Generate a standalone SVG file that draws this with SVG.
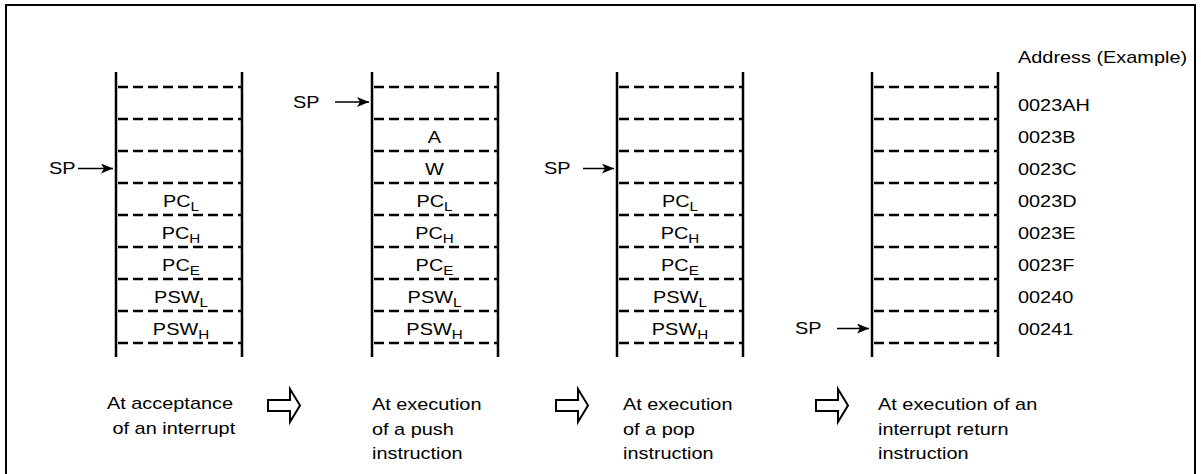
<svg xmlns="http://www.w3.org/2000/svg" width="1201" height="474" viewBox="0 0 1201 474">
<style>
text{font-family:"Liberation Sans",Arial,sans-serif;font-size:17px;fill:#000;transform-box:fill-box;transform:scaleX(1.17)}
.s{text-anchor:start;transform-origin:left center}
.m{text-anchor:middle;transform-origin:center}
.sub{font-size:13px}
.wall{stroke:#000;stroke-width:2.5;fill:none}
.dash{stroke:#000;stroke-width:2.5;stroke-dasharray:10 5;fill:none}
.ptr{stroke:#000;stroke-width:1.5;fill:none;marker-end:url(#ah)}
.blk{stroke:#000;stroke-width:2;fill:#fff;stroke-linejoin:miter}
</style>
<defs>
<marker id="ah" markerWidth="14" markerHeight="12" refX="12" refY="5" orient="auto" markerUnits="userSpaceOnUse">
<path d="M0,0 L12,5 L0,10 L3,5 Z" fill="#000"/>
</marker>
<g id="stackShape">
<line class="wall" x1="0" y1="72" x2="0" y2="357"/>
<line class="wall" x1="126" y1="72" x2="126" y2="357"/>
<path class="dash" d="M2,87H126M2,119H126M2,151H126M2,183H126M2,215H126M2,247H126M2,279H126M2,311H126M2,343H126"/>
</g>
</defs>
<path d="M6,480V5H1195V480" fill="none" stroke="#000" stroke-width="2"/>

<g id="stack1">
<use href="#stackShape" transform="translate(116,0)"/>
<text class="m" x="181" y="207">PC<tspan class="sub" dy="4">L</tspan></text>
<text class="m" x="181" y="239">PC<tspan class="sub" dy="4">H</tspan></text>
<text class="m" x="181" y="271">PC<tspan class="sub" dy="4">E</tspan></text>
<text class="m" x="181" y="303">PSW<tspan class="sub" dy="4">L</tspan></text>
<text class="m" x="181" y="335">PSW<tspan class="sub" dy="4">H</tspan></text>
<text class="s" x="49" y="174">SP</text>
<text class="s" x="107" y="409">At acceptance</text>
<text class="s" x="112.5" y="434">of an interrupt</text>
</g>

<g id="stack2">
<use href="#stackShape" transform="translate(372,0)"/>
<text class="m" x="434.5" y="143">A</text>
<text class="m" x="434.5" y="175">W</text>
<text class="m" x="434.5" y="207">PC<tspan class="sub" dy="4">L</tspan></text>
<text class="m" x="434.5" y="239">PC<tspan class="sub" dy="4">H</tspan></text>
<text class="m" x="434.5" y="271">PC<tspan class="sub" dy="4">E</tspan></text>
<text class="m" x="434.5" y="303">PSW<tspan class="sub" dy="4">L</tspan></text>
<text class="m" x="434.5" y="335">PSW<tspan class="sub" dy="4">H</tspan></text>
<text class="s" x="293" y="108">SP</text>
<text class="s" x="372" y="410">At execution</text>
<text class="s" x="372" y="435">of a push</text>
<text class="s" x="372" y="459">instruction</text>
</g>

<g id="stack3">
<use href="#stackShape" transform="translate(617,0)"/>
<text class="m" x="680" y="207">PC<tspan class="sub" dy="4">L</tspan></text>
<text class="m" x="680" y="239">PC<tspan class="sub" dy="4">H</tspan></text>
<text class="m" x="680" y="271">PC<tspan class="sub" dy="4">E</tspan></text>
<text class="m" x="680" y="303">PSW<tspan class="sub" dy="4">L</tspan></text>
<text class="m" x="680" y="335">PSW<tspan class="sub" dy="4">H</tspan></text>
<text class="s" x="544" y="174">SP</text>
<text class="s" x="623" y="410">At execution</text>
<text class="s" x="623" y="435">of a pop</text>
<text class="s" x="623" y="459">instruction</text>
</g>

<g id="stack4">
<use href="#stackShape" transform="translate(872,0)"/>
<text class="s" x="795" y="334">SP</text>
<text class="s" x="878" y="410">At execution of an</text>
<text class="s" x="878" y="435">interrupt return</text>
<text class="s" x="878" y="459">instruction</text>
</g>

<g id="addresses">
<text class="s" x="1018" y="63">Address (Example)</text>
<text class="s" x="1018" y="111">0023AH</text>
<text class="s" x="1018" y="143">0023B</text>
<text class="s" x="1018" y="175">0023C</text>
<text class="s" x="1018" y="207">0023D</text>
<text class="s" x="1018" y="239">0023E</text>
<text class="s" x="1018" y="271">0023F</text>
<text class="s" x="1018" y="303">00240</text>
<text class="s" x="1018" y="335">00241</text>
</g>

<g id="connectors">
<line class="ptr" x1="78" y1="168.5" x2="113" y2="168.5"/>
<line class="ptr" x1="335" y1="102" x2="369" y2="102"/>
<line class="ptr" x1="583" y1="168.5" x2="614" y2="168.5"/>
<line class="ptr" x1="837" y1="328.5" x2="869" y2="328.5"/>
<path class="blk" d="M268,400H290V389L300,405.5L290,422V411H268Z"/>
<path class="blk" d="M556,400H578V389L588,405.5L578,422V411H556Z"/>
<path class="blk" d="M816,400H838V389L848,405.5L838,422V411H816Z"/>
</g>
</svg>
